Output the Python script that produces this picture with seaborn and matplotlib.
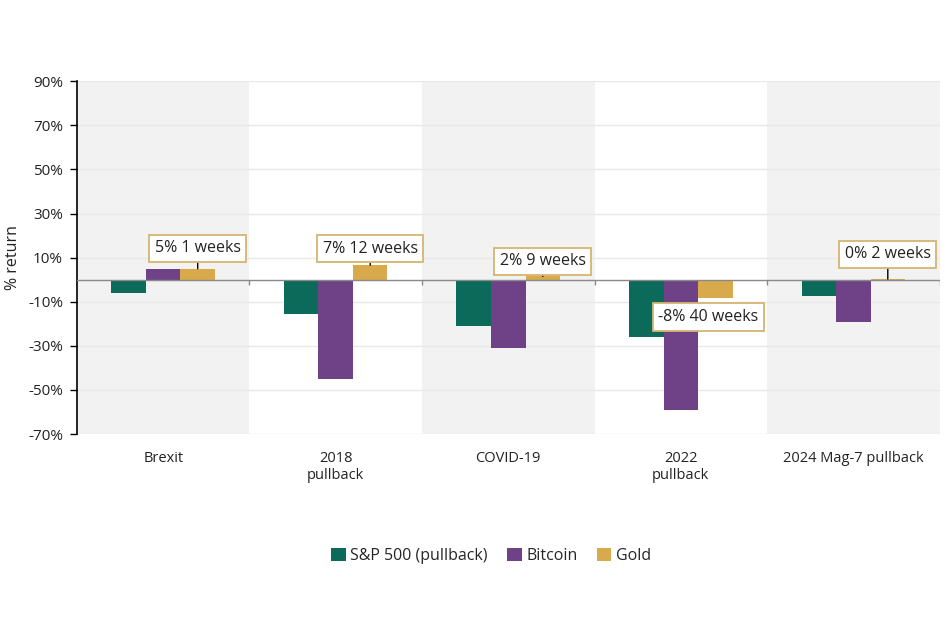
import numpy as np
import pandas as pd
import matplotlib
matplotlib.use("Agg")
import matplotlib.pyplot as plt
import seaborn as sns

# --- data ---
events = ["Brexit", "2018\npullback", "COVID-19", "2022\npullback", "2024 Mag-7 pullback"]
sp500 = [-6.0, -15.6, -21.0, -26.0, -7.4]
bitcoin = [4.7, -45.0, -31.0, -59.0, -19.2]
gold = [5.0, 6.6, 1.5, -8.2, 0.3]
assets = ["S&P 500 (pullback)", "Bitcoin", "Gold"]
gold_labels = ["5% 1 weeks", "7% 12 weeks", "2% 9 weeks", "-8% 40 weeks", "0% 2 weeks"]
yticks = [-70, -50, -30, -10, 10, 30, 50, 70, 90]

df = pd.DataFrame({
    "event": events * 3,
    "asset": [a for a in assets for _ in events],
    "ret": sp500 + bitcoin + gold,
})

colors = ["#0B6A5A", "#6F4288", "#D9AA4B"]
box_edge = "#D6B570"

sns.set_theme(style="white")
plt.rcParams["font.family"] = ["Open Sans", "DejaVu Sans"]

fig = plt.figure(figsize=(9.5, 6.3), dpi=100)
ax = fig.add_axes([0.081, 0.311, 0.908, 0.560])

# alternating background bands
for i in range(0, len(events), 2):
    ax.axvspan(i - 0.5, i + 0.5, color="#F2F2F2", lw=0, zorder=0)

for y in yticks:
    ax.axhline(y, color="#E8E8E8", lw=1, zorder=0.5)

sns.barplot(data=df, x="event", y="ret", hue="asset", palette=colors,
            width=0.6, saturation=1, linewidth=0, edgecolor="none",
            ax=ax, legend=True, zorder=2)

ax.axhline(0, color="#8A8A8A", lw=1, zorder=3)
ax.vlines(np.arange(len(events)) + 0.5, -2.3, 0, color="#8A8A8A", lw=1, zorder=3)

# gold annotations (offsets in points from bar end)
offsets = [(0, 9), (0, 6), (0, 5), (-5, -8), (0, 12)]
for bar, txt, off in zip(ax.containers[2], gold_labels, offsets):
    xc = bar.get_x() + bar.get_width() / 2
    val = bar.get_y() + bar.get_height()
    up = off[1] > 0
    ax.annotate(txt, xy=(xc, val), xytext=off, textcoords="offset points",
                ha="center", va="bottom" if up else "top",
                fontsize=11.5, color="#222222", zorder=6,
                bbox=dict(boxstyle="square,pad=0.35", fc="white", ec=box_edge, lw=1.3),
                arrowprops=dict(arrowstyle="-", color="black", lw=1, shrinkA=0, shrinkB=0)
                if up else None)

ax.set_xlim(-0.5, len(events) - 0.5)
ax.set_ylim(-70, 90)
ax.set_yticks(yticks)
ax.set_yticklabels([f"{v}%" for v in yticks], fontsize=11, color="#222222")
ax.set_xticks(range(len(events)))
ax.set_xticklabels(events, fontsize=10.5, color="#222222")
ax.tick_params(axis="x", length=0, pad=12)
ax.tick_params(axis="y", length=5, width=1, color="black", left=True, pad=5)
ax.set_xlabel("")
ax.set_ylabel("% return", fontsize=11.5, color="#222222", labelpad=5)

for s in ["top", "right", "bottom"]:
    ax.spines[s].set_visible(False)
ax.spines["left"].set_color("black")
ax.spines["left"].set_linewidth(1.2)

ax.get_legend().remove()
handles, labels = ax.get_legend_handles_labels()
fig.legend(handles[:3], labels[:3], loc="center", bbox_to_anchor=(0.517, 0.117),
           ncol=3, frameon=False, fontsize=11.5, handlelength=0.9, handleheight=0.9,
           handletextpad=0.3, columnspacing=1.2)

fig.savefig("out.png", dpi=100)
